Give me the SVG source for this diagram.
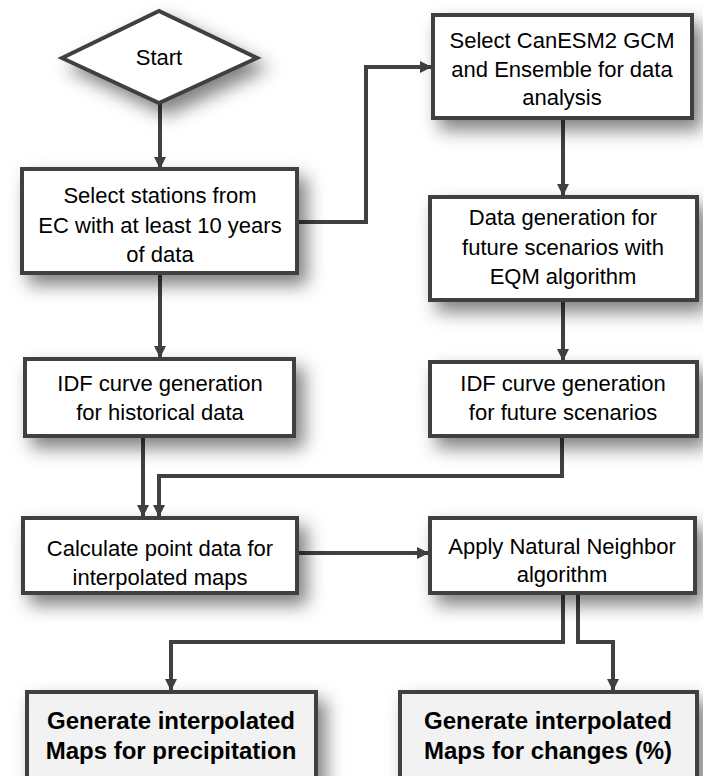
<svg xmlns="http://www.w3.org/2000/svg" width="703" height="776" viewBox="0 0 703 776">
<defs>
<filter id="sh" x="-20%" y="-20%" width="150%" height="160%">
<feDropShadow dx="8" dy="10" stdDeviation="9" flood-color="#000" flood-opacity="0.5"/>
</filter>
<marker id="ah" markerUnits="userSpaceOnUse" markerWidth="14" markerHeight="14" refX="12" refY="7" orient="auto">
<path d="M0,1 L12,7 L0,13 Z" fill="#404040"/>
</marker>
<style>
.box{fill:#fff;stroke:#404040;stroke-width:4;filter:url(#sh)}
.gbox{fill:#f2f2f2;stroke:#404040;stroke-width:4;filter:url(#sh)}
.t{font-family:"Liberation Sans",Arial,sans-serif;font-size:22px;fill:#000;text-anchor:middle}
.b{font-family:"Liberation Sans",Arial,sans-serif;font-size:24px;font-weight:bold;fill:#000;text-anchor:middle}
.c{fill:none;stroke:#404040;stroke-width:4;marker-end:url(#ah)}
</style>
</defs>
<rect width="703" height="776" fill="#fff"/>
<g id="connectors">
<path class="c" d="M160,102 V169"/>
<path class="c" d="M296,222 H366 V67 H432"/>
<path class="c" d="M563,118 V196"/>
<path class="c" d="M563,300 V361"/>
<path class="c" d="M160,273 V358"/>
<path class="c" d="M143,436 V517"/>
<path class="c" d="M562,436 V476 H159 V517"/>
<path class="c" d="M297,553 H429"/>
<path class="c" d="M563,593 V642 H171 V691"/>
<path class="c" d="M578,593 V642 H613 V691"/>
</g>
<g id="start">
<polygon class="box" points="62,58 159,11 257,58 159,103"/>
<text class="t" x="159" y="65">Start</text>
</g>
<g id="select-stations">
<rect class="box" x="22" y="169" width="275" height="104"/>
<text class="t" x="160" y="203">Select stations from</text>
<text class="t" x="160" y="233">EC with at least 10 years</text>
<text class="t" x="160" y="262">of data</text>
</g>
<g id="select-gcm">
<rect class="box" x="433" y="15" width="259" height="103"/>
<text class="t" x="562" y="48">Select CanESM2 GCM</text>
<text class="t" x="562" y="77">and Ensemble for data</text>
<text class="t" x="562" y="105">analysis</text>
</g>
<g id="data-generation">
<rect class="box" x="430" y="197" width="267" height="103"/>
<text class="t" x="563" y="225">Data generation for</text>
<text class="t" x="563" y="255">future scenarios with</text>
<text class="t" x="563" y="284">EQM algorithm</text>
</g>
<g id="idf-future">
<rect class="box" x="430" y="362" width="267" height="74"/>
<text class="t" x="563" y="391">IDF curve generation</text>
<text class="t" x="563" y="420">for future scenarios</text>
</g>
<g id="idf-historical">
<rect class="box" x="25" y="359" width="269" height="77"/>
<text class="t" x="160" y="391">IDF curve generation</text>
<text class="t" x="160" y="420">for historical data</text>
</g>
<g id="calculate">
<rect class="box" x="23" y="518" width="274" height="75"/>
<text class="t" x="160" y="556">Calculate point data for</text>
<text class="t" x="160" y="585">interpolated maps</text>
</g>
<g id="natural-neighbor">
<rect class="box" x="430" y="518" width="265" height="75"/>
<text class="t" x="562" y="554">Apply Natural Neighbor</text>
<text class="t" x="562" y="582">algorithm</text>
</g>
<g id="maps-precipitation">
<rect class="gbox" x="27" y="692" width="289" height="100"/>
<text class="b" x="171" y="729">Generate interpolated</text>
<text class="b" x="171" y="759">Maps for precipitation</text>
</g>
<g id="maps-changes">
<rect class="gbox" x="400" y="692" width="297" height="100"/>
<text class="b" x="548" y="729">Generate interpolated</text>
<text class="b" x="548" y="759">Maps for changes (%)</text>
</g>
</svg>
